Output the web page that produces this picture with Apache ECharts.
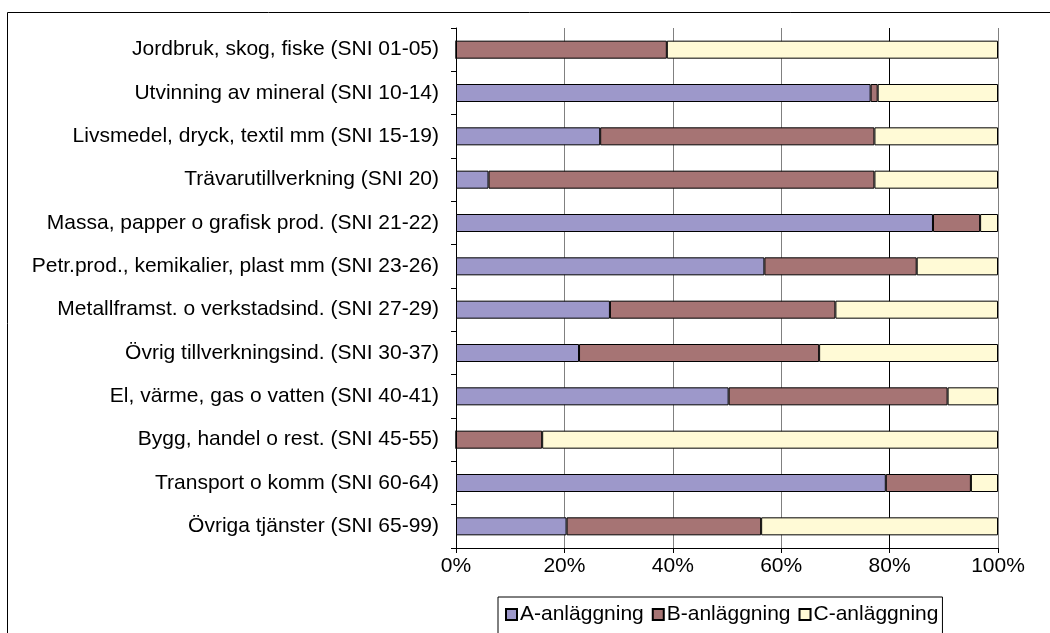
<!DOCTYPE html>
<html>
<head>
<meta charset="utf-8">
<script src="https://cdn.jsdelivr.net/npm/echarts@6/dist/echarts.min.js"></script>
<style>
  html, body { margin: 0; padding: 0; background: #fff; }
  #main { width: 1050px; height: 633px; }
</style>
</head>
<body>
<div id="main"></div>
<script>
// branscher, uppifrån och ned
const categories = [
  'Jordbruk, skog, fiske (SNI 01-05)',
  'Utvinning av mineral (SNI 10-14)',
  'Livsmedel, dryck, textil mm (SNI 15-19)',
  'Trävarutillverkning (SNI 20)',
  'Massa, papper o grafisk prod. (SNI 21-22)',
  'Petr.prod., kemikalier, plast mm (SNI 23-26)',
  'Metallframst. o verkstadsind. (SNI 27-29)',
  'Övrig tillverkningsind. (SNI 30-37)',
  'El, värme, gas o vatten (SNI 40-41)',
  'Bygg, handel o rest. (SNI 45-55)',
  'Transport o komm (SNI 60-64)',
  'Övriga tjänster (SNI 65-99)'
]
const seriesNames = ['A-anläggning', 'B-anläggning', 'C-anläggning']
// andelar i procent
const aValues = [0, 76.5, 26.6, 6.0, 88.0, 56.9, 28.4, 22.7, 50.3, 0, 79.3, 20.4]
const bValues = [38.9, 1.3, 50.6, 71.2, 8.7, 28.1, 41.6, 44.3, 40.4, 15.9, 15.7, 35.9]
const cValues = [61.1, 22.2, 22.8, 22.8, 3.3, 15.0, 30.0, 33.0, 9.3, 84.1, 5.0, 43.7]
const xTicks = [0, 20, 40, 60, 80, 100]

const colors = ['#9d98ca', '#a67474', '#fffad6']
const font = 'Liberation Sans, Arial, sans-serif'

const chart = echarts.init(document.getElementById('main'))

function bar(name, data, color) {
  return {
    name: name,
    type: 'bar',
    stack: 'tot',
    barWidth: 18,
    data: data,
    itemStyle: { color: color, borderColor: '#000', borderWidth: 1 },
    emphasis: { disabled: true }
  }
}

const seriesA = bar(seriesNames[0], aValues, colors[0])
// 80%-linjen är mörkare i originalet
seriesA.markLine = {
  silent: true,
  symbol: 'none',
  label: { show: false },
  lineStyle: { color: '#000', type: 'solid', width: 1 },
  data: [{ xAxis: 80 }],
  z: 0
}

chart.setOption({
  animation: false,
  textStyle: { fontFamily: font },
  graphic: [
    {
      type: 'rect',
      shape: { x: 7.5, y: 12.5, width: 1100, height: 700 },
      style: { fill: 'none', stroke: '#000', lineWidth: 1 },
      silent: true,
      z: -10
    }
  ],
  grid: { left: 456, right: 52, top: 28, bottom: 85 },
  legend: {
    left: 498,
    top: 597,
    data: seriesNames,
    icon: 'rect',
    itemWidth: 11,
    itemHeight: 11,
    itemGap: 8,
    borderColor: '#000',
    borderWidth: 1,
    borderRadius: 0,
    padding: [7, 4, 20, 7],
    textStyle: { fontFamily: font, fontSize: 21, color: '#000', padding: [0, 0, 0, -2] }
  },
  xAxis: {
    type: 'value',
    min: 0,
    max: 100,
    interval: 20,
    axisLine: { show: true, lineStyle: { color: '#000' } },
    axisTick: { show: true, length: 5, lineStyle: { color: '#000' } },
    axisLabel: {
      margin: 8,
      fontSize: 21,
      color: '#000',
      fontFamily: font,
      formatter: v => xTicks.includes(v) ? v + '%' : ''
    },
    splitLine: { show: true, lineStyle: { color: '#808080', width: 1 } }
  },
  yAxis: {
    type: 'category',
    inverse: true,
    data: categories,
    axisLine: { show: true, lineStyle: { color: '#000' } },
    axisTick: { show: true, length: 5, lineStyle: { color: '#000' } },
    axisLabel: { margin: 17, fontSize: 21, color: '#000', fontFamily: font }
  },
  series: [
    seriesA,
    bar(seriesNames[1], bValues, colors[1]),
    bar(seriesNames[2], cValues, colors[2])
  ]
})
</script>
</body>
</html>
